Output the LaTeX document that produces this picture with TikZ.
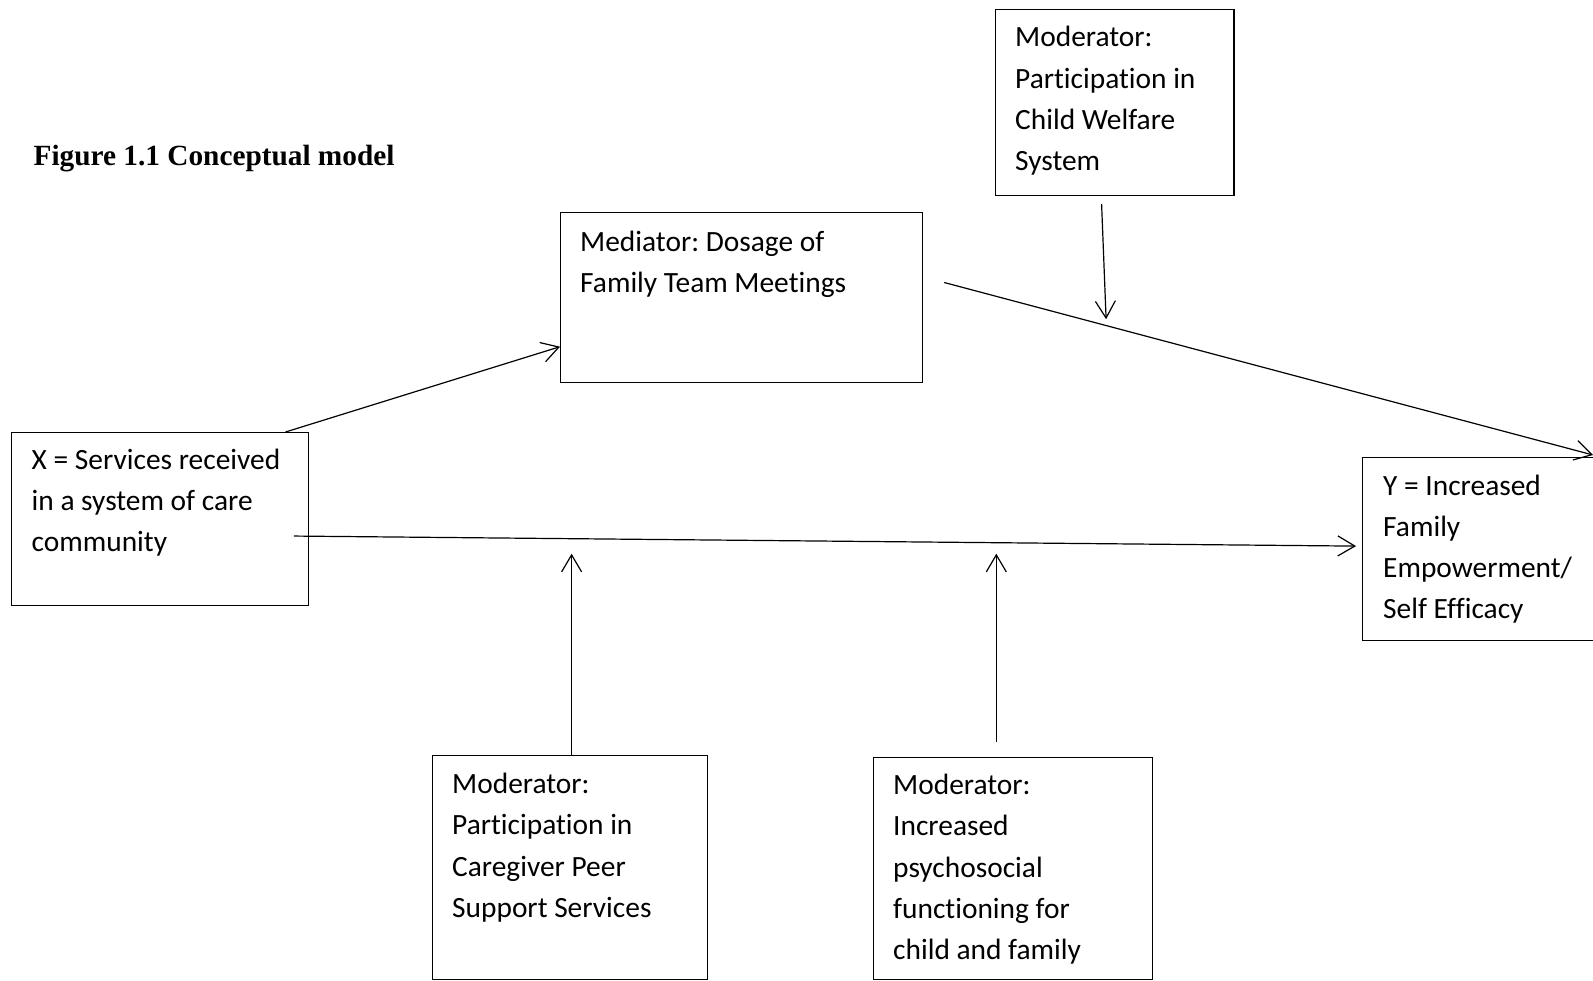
\documentclass[tikz,border=0pt]{standalone}
\usepackage{fontspec}
\setmainfont{Carlito}[Ligatures={NoCommon}]
\newfontfamily\titlefont{Liberation Serif}
\usetikzlibrary{arrows.meta}
\frenchspacing
\tikzset{
  box/.style={draw, line width=1.2pt, rectangle, inner sep=0pt, anchor=north west},
  txt/.style={anchor=base west, inner sep=0pt, font=\fontsize{29.4}{41.3}\selectfont},
  conn/.style={line width=1.2pt, -{Straight Barb[length=17pt,width=20pt,line width=1.2pt]}},
}
\begin{document}
\begin{tikzpicture}[x=1pt,y=-1pt]
\clip (0,0) rectangle (1593,980);
% title
\node[anchor=base west, inner sep=0pt, font=\titlefont\bfseries\fontsize{29.3}{34}\selectfont] (title) at (33.5,165) {Figure 1.1 Conceptual model};
% boxes
\node[box, minimum width=361.5pt, minimum height=170pt] (med) at (560,212) {};
\node[box, minimum width=238.8pt, minimum height=186pt] (modt) at (994.6,9) {};
\node[box, minimum width=297pt, minimum height=172.5pt] (xb) at (11,432) {};
\node[box, minimum width=260pt, minimum height=183pt] (yb) at (1362,457) {};
\node[box, minimum width=275pt, minimum height=224pt] (modl) at (432,755) {};
\node[box, minimum width=279pt, minimum height=222pt] (modr) at (873,757) {};
% texts
\node[txt] (medt) at (580,251) {\vtop{\hbox{Mediator: Dosage of}\hbox{Family Team Meetings}}};
\node[txt] (modtt) at (1015,46.7) {\vtop{\hbox{Moderator:}\hbox{Participation in}\hbox{Child Welfare}\hbox{System}}};
\node[txt] (xt) at (31.5,469) {\vtop{\hbox{X = Services received}\hbox{in a system of care}\hbox{community}}};
\node[txt] (yt) at (1383,495) {\vtop{\hbox{Y = Increased}\hbox{Family}\hbox{Empowerment/}\hbox{Self Efficacy}}};
\node[txt] (modlt) at (452,793.5) {\vtop{\hbox{Moderator:}\hbox{Participation in}\hbox{Caregiver Peer}\hbox{Support Services}}};
\node[txt] (modrt) at (893,794.5) {\vtop{\hbox{Moderator:}\hbox{Increased}\hbox{psychosocial}\hbox{functioning for}\hbox{child and family}}};
% connectors
\draw[conn] ([xshift=274.5pt]xb.north west) -- ([yshift=36.5pt]med.south west);
\draw[conn] ([xshift=21.5pt,yshift=-70.5pt]med.north east) -- ([xshift=231pt,yshift=2pt]yb.north west);
\draw[conn] ([xshift=-13pt,yshift=-8pt]modt.south) -- ([xshift=-8.5pt,yshift=-123pt]modt.south);
\draw[conn] ([xshift=-15.4pt,yshift=-17.2pt]xb.east) -- ([xshift=-6pt,yshift=3pt]yb.west);
\draw[conn] ([xshift=1.5pt]modl.north) -- ([xshift=1.5pt,yshift=201.3pt]modl.north);
\draw[conn] ([xshift=-16.8pt,yshift=15.3pt]modr.north) -- ([xshift=-16.8pt,yshift=203.3pt]modr.north);
\end{tikzpicture}
\end{document}
